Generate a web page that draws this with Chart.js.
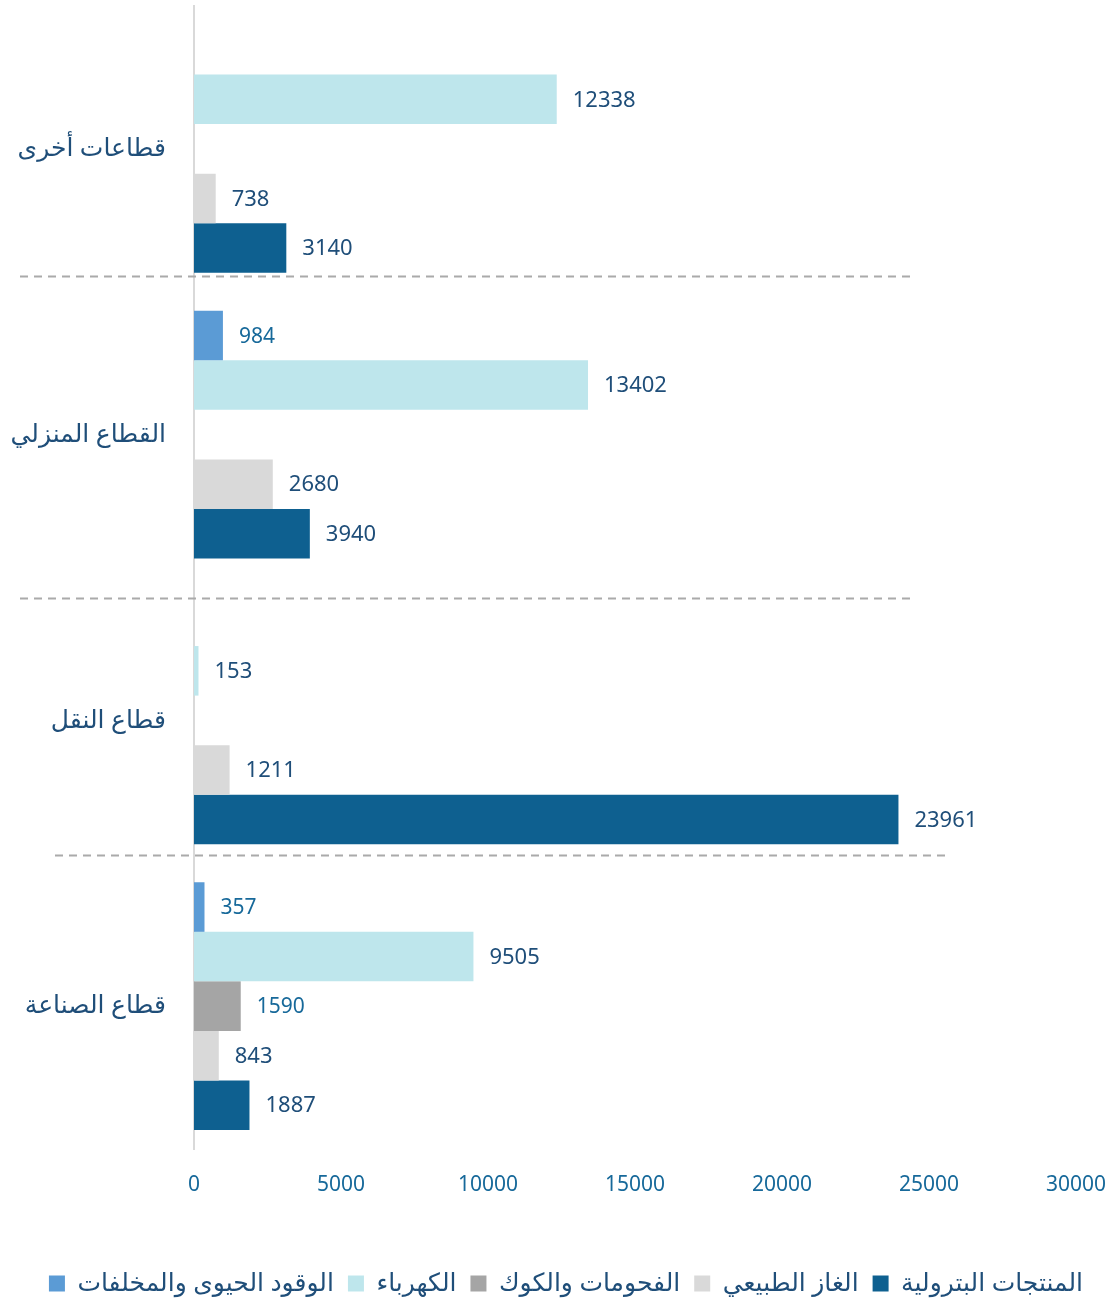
<!DOCTYPE html>
<html lang="ar">
<head>
<meta charset="utf-8">
<script src="https://cdn.jsdelivr.net/npm/chart.js@4"></script>
<style>
  html, body { margin: 0; padding: 0; background: #fff; }
  #wrap { width: 1113px; height: 1298px; }
</style>
</head>
<body>
<div id="wrap"><canvas id="mygraph"></canvas></div>
<script>
// sectors, top to bottom
const sectors = ['قطاعات أخرى', 'القطاع المنزلي', 'قطاع النقل', 'قطاع الصناعة'];

// energy sources, one array per source (null = nothing consumed)
const biofuel     = [null, 984, null, 357];
const electricity = [12338, 13402, 153, 9505];
const coal        = [null, null, null, 1590];
const naturalGas  = [738, 2680, 1211, 843];
const petroleum   = [3140, 3940, 23961, 1887];

const sourceNames = ['الوقود الحيوى والمخلفات', 'الكهرباء', 'الفحومات والكوك', 'الغاز الطبيعي', 'المنتجات البترولية'];
const sourceColors = ['#5b9bd5', '#bee6ec', '#a5a5a5', '#d9d9d9', '#0e6090'];

const xTicks = [0, 5000, 10000, 15000, 20000, 25000, 30000];

const navy = '#1f4e79';
const blue = '#17699a';
const arFont = "'Noto Sans', 'DejaVu Sans', sans-serif";

// separators sit between sectors (position in category units)
const separators = [
  { at: 0.444, from: 20, to: 915 },
  { at: 1.57, from: 20, to: 915 },
  { at: 2.472, from: 55, to: 948 }
];

const valueLabels = {
  id: 'valueLabels',
  afterDatasetsDraw(chart) {
    const ctx = chart.ctx;
    ctx.save();
    ctx.textAlign = 'left';
    ctx.textBaseline = 'middle';
    chart.data.datasets.forEach((ds, di) => {
      const meta = chart.getDatasetMeta(di);
      const small = (di === 0 || di === 2);
      ctx.fillStyle = small ? blue : navy;
      ctx.font = (small ? '21px ' : '22px ') + arFont;
      meta.data.forEach((bar, i) => {
        const v = ds.data[i];
        if (v === null) return;
        ctx.fillText(String(v), bar.x + 16, bar.y + 1);
      });
    });
    ctx.restore();
  }
};

const dashedSeparators = {
  id: 'dashedSeparators',
  afterDatasetsDraw(chart) {
    const ctx = chart.ctx;
    const y = chart.scales.y;
    ctx.save();
    ctx.strokeStyle = '#aaaaaa';
    ctx.lineWidth = 2;
    ctx.setLineDash([8, 6]);
    separators.forEach(s => {
      const py = Math.round(y.getPixelForValue(s.at)) + 0.5;
      ctx.beginPath();
      ctx.moveTo(s.from, py);
      ctx.lineTo(s.to, py);
      ctx.stroke();
    });
    ctx.restore();
  }
};

// nudge the legend row a little to the right
const legendShift = {
  id: 'legendShift',
  afterLayout(chart) {
    if (!chart.legend) return;
    chart.legend.left += 28;
    chart.legend.right += 28;
  }
};

const datasets = [biofuel, electricity, coal, naturalGas, petroleum].map((values, i) => ({
  label: sourceNames[i],
  data: values,
  backgroundColor: sourceColors[i],
  borderWidth: 0,
  categoryPercentage: 0.867,
  barPercentage: 1.0
}));

new Chart(document.getElementById('mygraph'), {
  type: 'bar',
  data: { labels: sectors, datasets: datasets },
  options: {
    indexAxis: 'y',
    responsive: true,
    maintainAspectRatio: false,
    animation: false,
    layout: { padding: { top: 6, right: 37, bottom: -8, left: 0 } },
    scales: {
      x: {
        min: 0,
        max: 30000,
        afterBuildTicks: axis => { axis.ticks = xTicks.map(v => ({ value: v })); },
        afterFit: axis => { axis.height = 108; },
        // hidden tick marks push the labels down without widening the side padding
        grid: { display: false, drawTicks: true, tickLength: 23 },
        border: { display: false },
        ticks: {
          padding: 0,
          color: blue,
          callback: v => String(v),
          font: { family: "'Noto Sans', sans-serif", size: 21 }
        }
      },
      y: {
        afterFit: axis => { axis.width = 194; },
        grid: { display: false, drawTicks: true, tickLength: 28 },
        border: { display: true, color: '#d9d9d9', width: 2 },
        ticks: {
          padding: 0,
          color: navy,
          font: { family: arFont, size: 25, lineHeight: 0.4 }
        }
      }
    },
    plugins: {
      legend: {
        position: 'bottom',
        align: 'center',
        textDirection: 'rtl',
        labels: {
          color: navy,
          boxWidth: 16,
          boxHeight: 16,
          padding: 14,
          font: { family: arFont, size: 25, lineHeight: 1 }
        }
      },
      tooltip: { enabled: false }
    }
  },
  plugins: [valueLabels, dashedSeparators, legendShift]
});
</script>
</body>
</html>
